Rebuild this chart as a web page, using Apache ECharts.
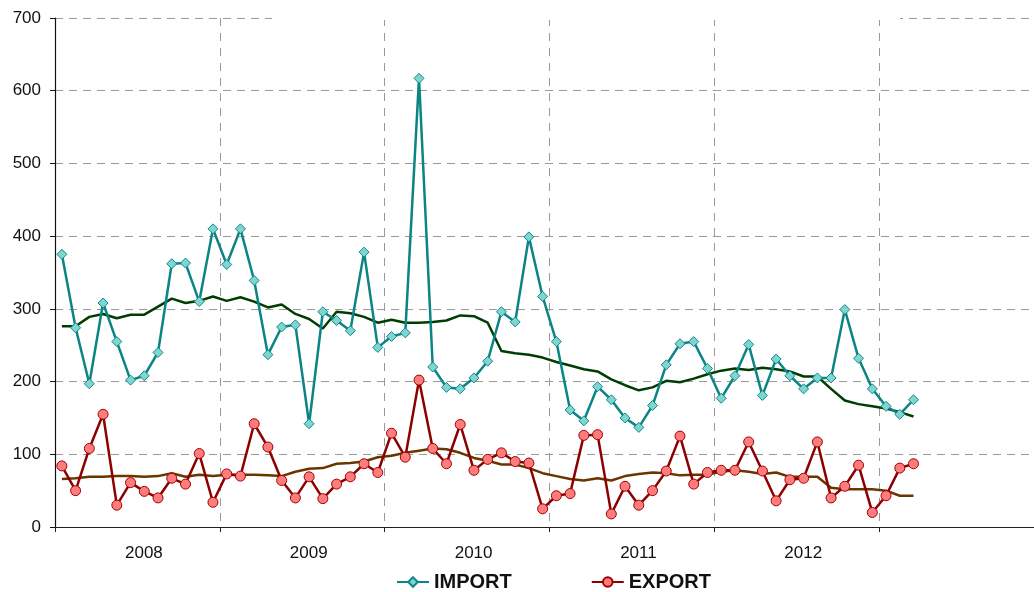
<!DOCTYPE html>
<html>
<head>
<meta charset="utf-8">
<script src="https://cdn.jsdelivr.net/npm/echarts@6/dist/echarts.min.js"></script>
<style>html,body{margin:0;padding:0;background:#fff}#c{width:1034px;height:592px}</style>
</head>
<body>
<div id="c"></div>
<script>
// ---- data ----
const years = ['2008','2009','2010','2011','2012','2013'];
const yearLabels = ['2008','2009','2010','2011','2012',''];
const monthNames = ['01','02','03','04','05','06','07','08','09','10','11','12'];
const yTicks = [0,100,200,300,400,500,600,700];

const importValues = [
  375,274,197,308,255,202,208,240,362,363,310,410,
  361,410,339,237,275,278,142,296,284,270,378,247,
  262,267,617,220,192,190,205,228,296,282,399,317,
  255,161,146,193,175,150,137,167,223,252,255,218,
  177,208,251,181,231,208,190,205,205,299,232,190,
  166,155,175
];
const exportValues = [
  84,50,108,155,30,61,49,40,67,59,101,34,
  73,70,142,110,64,40,69,39,59,69,87,75,
  129,96,202,108,87,141,78,93,102,90,88,25,
  43,46,126,127,18,56,30,50,77,125,59,75,
  78,78,117,77,36,65,67,117,40,56,85,20,
  43,81,87
];
const importTrend = [
  276,276,289,293,287,292,292,303,314,308,311,317,
  311,316,310,302,306,293,286,273,296,294,289,281,
  285,281,281,282,284,291,290,281,242,239,237,233,
  227,222,217,214,203,195,188,192,201,199,204,210,
  215,218,216,219,217,214,207,207,190,174,169,166,
  163,158,152
];
const exportTrend = [
  66,67,69,69,70,70,69,70,74,69,72,70,
  72,72,72,71,70,76,80,81,87,88,90,96,
  98,102,105,108,107,102,95,91,86,86,81,74,
  70,66,64,67,64,70,73,75,74,71,72,72,
  76,78,76,73,75,69,69,69,54,52,52,52,
  50,43,43
];

const months = [];
years.forEach(y => monthNames.forEach(m => months.push(y + '-' + m)));

const FONT = '"Liberation Sans", Arial, sans-serif';
const gridDash = { color: '#9a9a9a', width: 1, type: [8, 6] };

const chart = echarts.init(document.getElementById('c'), null, { renderer: 'canvas' });
chart.setOption({
  animation: false,
  textStyle: { fontFamily: FONT },
  grid: { left: 55, top: 18, width: 989, bottom: 65, containLabel: false, outerBoundsMode: 'none' },
  xAxis: [
    {
      type: 'category', data: months, boundaryGap: true, position: 'bottom',
      show: false
    },
    {
      type: 'category', data: yearLabels, boundaryGap: true, position: 'bottom',
      axisLine: { show: true, lineStyle: { color: '#222', width: 1.2 } },
      axisTick: { show: true, interval: 0, length: 5, lineStyle: { color: '#222' } },
      axisLabel: { interval: 0, fontSize: 17, color: '#111', margin: 18, padding: [0, 0, 0, 13] },
      splitLine: { show: true, interval: 0, lineStyle: { color: '#9a9a9a', width: 1, type: [8, 7] } }
    }
  ],
  yAxis: {
    type: 'value', min: 0, max: 700, interval: 100,
    axisLine: { show: true, lineStyle: { color: '#111', width: 1.2 } },
    axisTick: { show: true, length: 5, lineStyle: { color: '#111' } },
    axisLabel: { fontSize: 17, color: '#111', margin: 14,
      formatter: v => yTicks.indexOf(v) >= 0 ? String(v) : '' },
    splitLine: { show: true, lineStyle: gridDash }
  },
  legend: {
    data: ['IMPORT', 'EXPORT'],
    left: 391, top: 567,
    itemWidth: 32, itemHeight: 12, itemGap: 79,
    textStyle: { fontSize: 20, fontWeight: 'bold', color: '#111', fontFamily: FONT }
  },
  graphic: [
    { type: 'rect', shape: { x: 272, y: 0, width: 628, height: 20 },
      style: { fill: '#fff' }, z: 100, silent: true }
  ],
  series: [
    {
      name: 'IMPORT trend', type: 'line', xAxisIndex: 0, data: importTrend,
      symbol: 'none', lineStyle: { color: '#003d00', width: 2.5 }, z: 2
    },
    {
      name: 'EXPORT trend', type: 'line', xAxisIndex: 0, data: exportTrend,
      symbol: 'none', lineStyle: { color: '#6b3500', width: 2.5 }, z: 2
    },
    {
      name: 'IMPORT', type: 'line', xAxisIndex: 0, data: importValues,
      symbol: 'diamond', symbolSize: 10, showAllSymbol: true,
      lineStyle: { color: '#0a8484', width: 2.5 },
      itemStyle: { color: '#7fd5d0', borderColor: '#118888', borderWidth: 1 }, z: 3
    },
    {
      name: 'EXPORT', type: 'line', xAxisIndex: 0, data: exportValues,
      symbol: 'circle', symbolSize: 10, showAllSymbol: true,
      lineStyle: { color: '#8c0000', width: 2.5 },
      itemStyle: { color: '#ff7c7c', borderColor: '#a00000', borderWidth: 1 }, z: 4
    }
  ]
});
</script>
</body>
</html>
